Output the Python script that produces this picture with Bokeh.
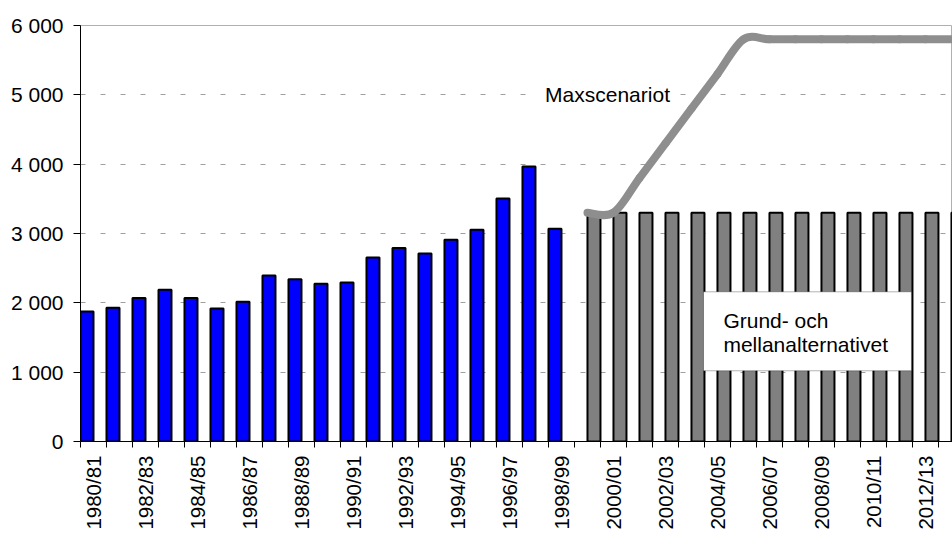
import math
from bokeh.plotting import figure
from bokeh.models import Range1d, FixedTicker, BoxAnnotation, Label
from bokeh.embed import file_html
from bokeh.resources import INLINE

# ---- data ----
categories = [f"{y}/{str(y + 1)[-2:]}" for y in range(1980, 2014)]
blue_values = [1875, 1930, 2070, 2190, 2070, 1920, 2015, 2395, 2340, 2275,
               2295, 2655, 2790, 2710, 2910, 3055, 3505, 3965, 3070]
gray_values = [3300, 3300, 3300, 3300, 3300, 3300, 3300, 3300, 3300, 3300,
               3300, 3300, 3300, 3300, 3300]
max_values = [3300, 3300, 3800, 4300, 4800, 5300, 5800, 5800, 5800, 5800,
              5800, 5800, 5800, 5800, 5800]
y_ticks = [0, 1000, 2000, 3000, 4000, 5000, 6000]
y_tick_labels = ["0", "1 000", "2 000", "3 000", "4 000", "5 000", "6 000"]

FONT = "Liberation Sans"

blue_idx = list(range(len(blue_values)))
gray_idx = list(range(len(blue_values), len(blue_values) + len(gray_values)))

p = figure(width=952, height=533, output_backend="svg", toolbar_location=None,
           x_range=Range1d(-0.5, 33.04), y_range=Range1d(0, 6000),
           min_border_left=80, min_border_right=0, min_border_top=25,
           min_border_bottom=92)
p.background_fill_color = "white"
p.border_fill_color = "white"
p.outline_line_color = "#b0b0b0"
p.outline_line_width = 1

# grid
p.xgrid.visible = False
p.ygrid.ticker = FixedTicker(ticks=y_ticks[1:-1])
p.ygrid.grid_line_color = "#a0a0a0"
p.ygrid.grid_line_dash = "5 15"
p.ygrid.grid_line_width = 1

# bars: blue in left half of category, gray in right half
p.vbar(x=[i - 0.25 for i in blue_idx], top=blue_values, width=0.5, bottom=0,
       fill_color="#0000ff", line_color="black", line_width=2)
p.vbar(x=[i + 0.25 for i in gray_idx], top=gray_values, width=0.5, bottom=0,
       fill_color="#808080", line_color="black", line_width=2)

# smoothed Maxscenariot line (Catmull-Rom -> cubic bezier control points)
xs = gray_idx
ys = max_values
n = len(xs)
x0, y0, x1, y1, cx0, cy0, cx1, cy1 = [], [], [], [], [], [], [], []
for i in range(n - 1):
    pxm, pym = (xs[i - 1], ys[i - 1]) if i > 0 else (xs[i], ys[i])
    pxp, pyp = (xs[i + 2], ys[i + 2]) if i + 2 < n else (xs[i + 1], ys[i + 1])
    x0.append(xs[i]); y0.append(ys[i])
    x1.append(xs[i + 1]); y1.append(ys[i + 1])
    cx0.append(xs[i] + (xs[i + 1] - pxm) / 6); cy0.append(ys[i] + (ys[i + 1] - pym) / 6)
    cx1.append(xs[i + 1] - (pxp - xs[i]) / 6); cy1.append(ys[i + 1] - (pyp - ys[i]) / 6)
p.bezier(x0=x0, y0=y0, x1=x1, y1=y1, cx0=cx0, cy0=cy0, cx1=cx1, cy1=cy1,
         line_color="#8e8e8e", line_width=8, line_cap="round")

# x axis
xa = p.xaxis[0]
xa.ticker = FixedTicker(ticks=list(range(0, len(categories), 2)),
                        minor_ticks=[i - 0.5 for i in range(len(categories) + 1)])
xa.major_label_overrides = {i: categories[i] for i in range(0, len(categories), 2)}
xa.major_label_orientation = math.pi / 2
xa.major_tick_out = 0
xa.major_tick_in = 0
xa.minor_tick_out = 6
xa.minor_tick_in = 0
xa.minor_tick_line_color = "black"
xa.axis_line_color = "black"
xa.major_label_standoff = 8
xa.major_label_text_font = FONT
xa.major_label_text_font_size = "20.5px"
xa.major_label_text_color = "black"

# y axis
ya = p.yaxis[0]
ya.ticker = FixedTicker(ticks=y_ticks)
ya.major_label_overrides = dict(zip(y_ticks, y_tick_labels))
ya.major_tick_out = 7
ya.major_tick_in = 0
ya.minor_tick_out = 0
ya.minor_tick_in = 0
ya.axis_line_color = "black"
ya.major_tick_line_color = "black"
ya.major_label_standoff = 10
ya.major_label_text_font = FONT
ya.major_label_text_font_size = "21px"
ya.major_label_text_color = "black"

# annotations
p.add_layout(Label(x=17.1, y=5000, text="Maxscenariot", text_font=FONT,
                   text_font_size="21px", text_color="black",
                   text_baseline="alphabetic", text_align="left",
                   background_fill_color="white", padding=7))

p.add_layout(BoxAnnotation(left=23.46, right=31.46, bottom=1020, top=2159,
                           fill_color="white", fill_alpha=1.0,
                           line_color="black", line_width=1))
p.add_layout(Label(x=23.46, y=1741, x_offset=20, text="Grund- och",
                   text_font=FONT, text_font_size="21px", text_color="black",
                   text_baseline="alphabetic", text_align="left"))
p.add_layout(Label(x=23.46, y=1395, x_offset=20, text="mellanalternativet",
                   text_font=FONT, text_font_size="21px", text_color="black",
                   text_baseline="alphabetic", text_align="left"))

open("out.html", "w").write(file_html(p, INLINE))
